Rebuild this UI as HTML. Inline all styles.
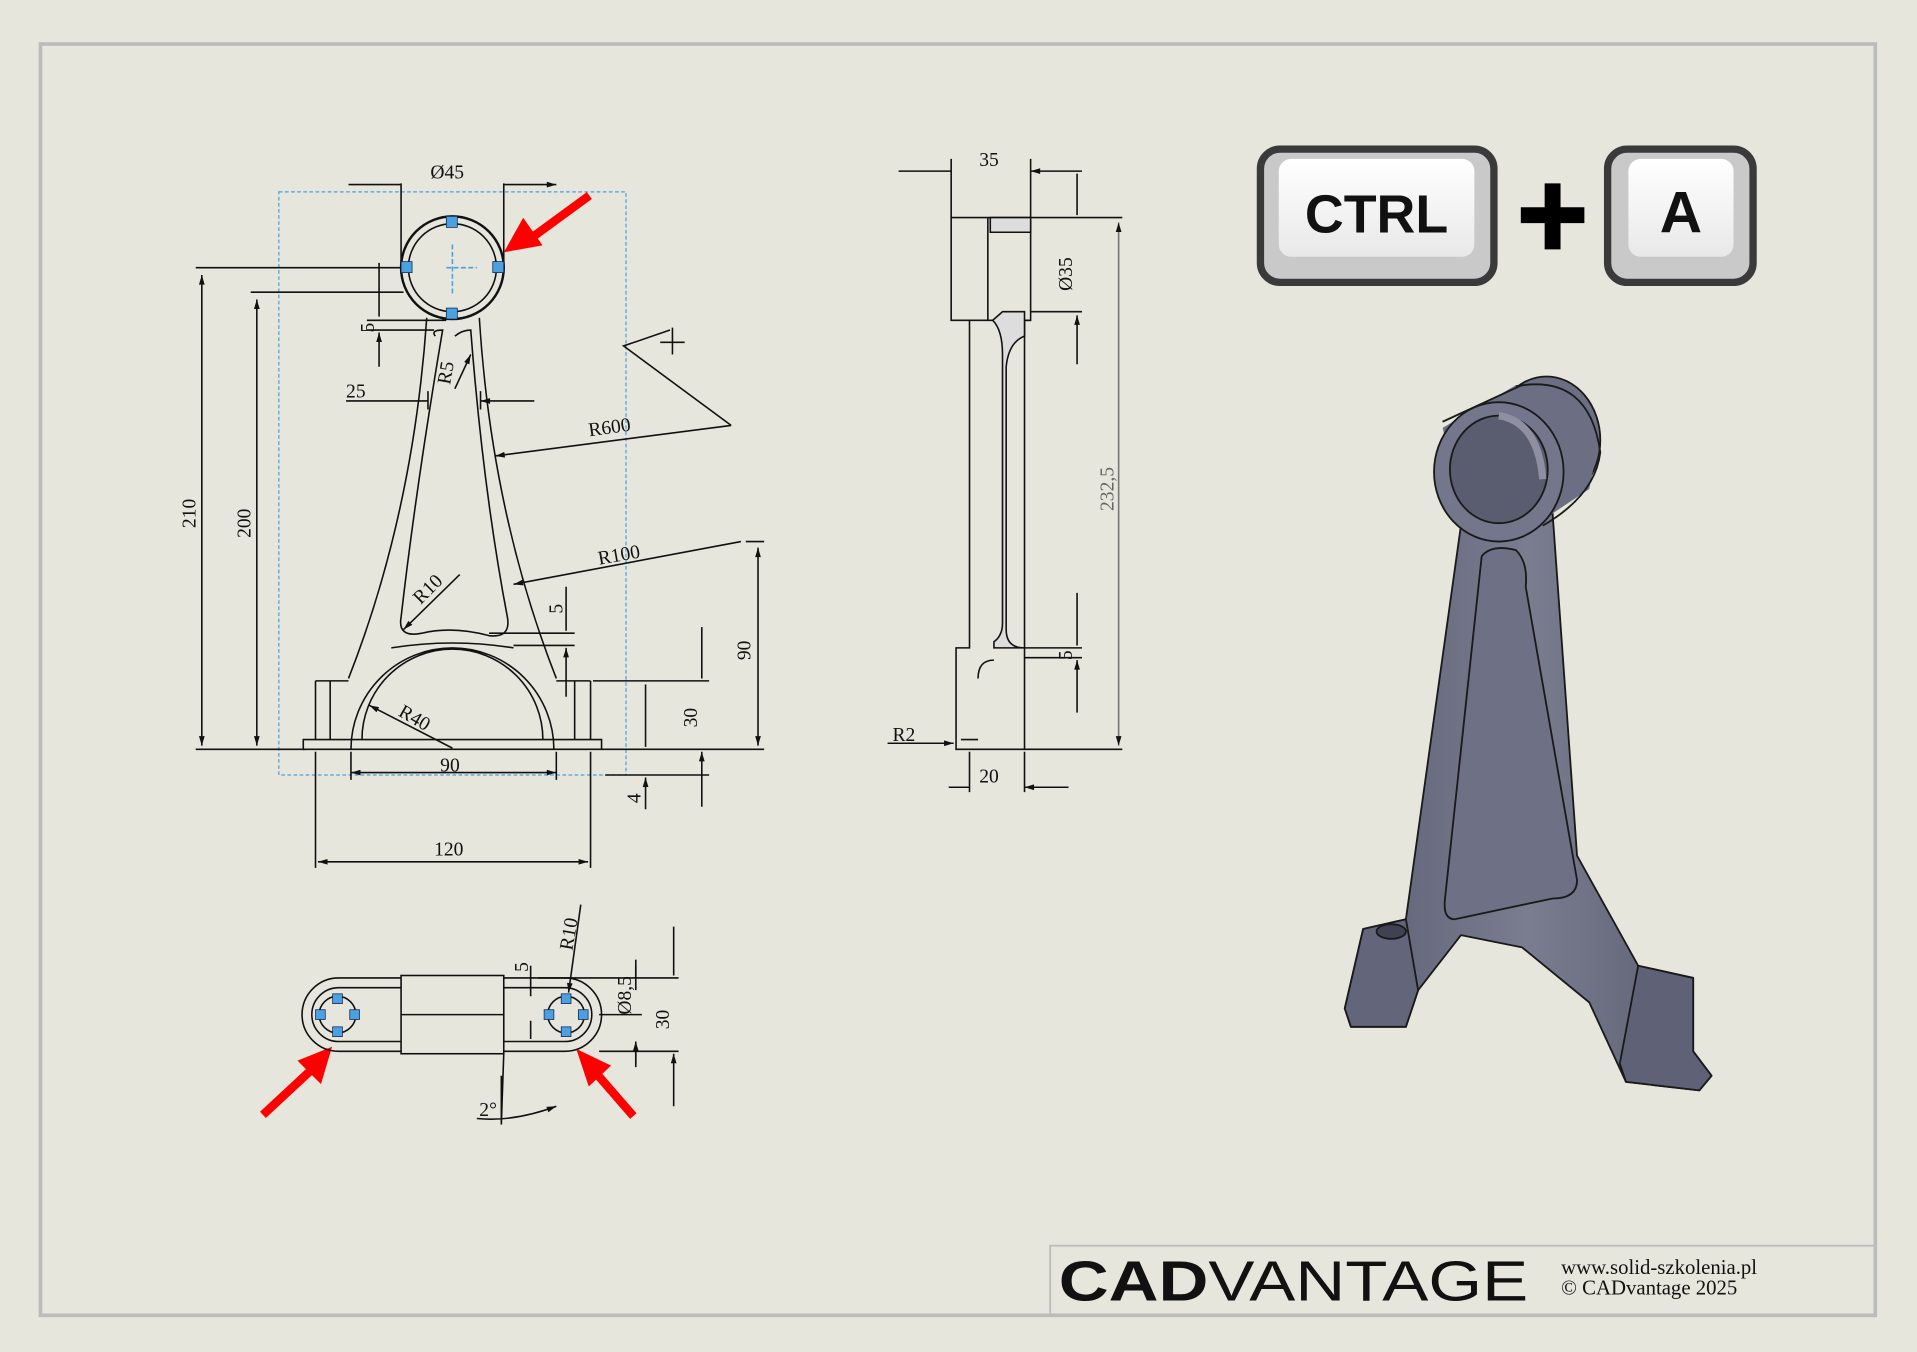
<!DOCTYPE html>
<html><head><meta charset="utf-8"><style>
html,body{margin:0;padding:0;background:#e7e6dc;}
svg{display:block}
text{font-family:"Liberation Serif",serif;fill:#111}
</style></head><body>
<svg width="1917" height="1352" viewBox="0 0 1568 1106" xmlns="http://www.w3.org/2000/svg">
<defs>
<marker id="a" viewBox="0 0 10 10" refX="10" refY="5" markerWidth="10" markerHeight="6" orient="auto-start-reverse"><path d="M0,2 L10,5 L0,8z" fill="#111"/></marker>
<linearGradient id="key" x1="0" y1="0" x2="0" y2="1"><stop offset="0" stop-color="#fff"/><stop offset="1" stop-color="#e8e8e8"/></linearGradient>
<linearGradient id="body" x1="0" y1="0" x2="1" y2="0"><stop offset="0" stop-color="#5d6074"/><stop offset="0.5" stop-color="#7a7d90"/><stop offset="1" stop-color="#5a5d70"/></linearGradient>
</defs>
<rect width="1568" height="1106" fill="#e7e6dc"/>
<rect x="33" y="36" width="1501" height="1040" fill="none" stroke="#bcbcbc" stroke-width="3"/>
<!-- title block -->
<path d="M859,1076 V1019 H1534" fill="none" stroke="#bcbcbc" stroke-width="1.5"/>
<text x="866" y="1064" textLength="384" lengthAdjust="spacingAndGlyphs" font-size="46" style="font-family:'Liberation Sans',sans-serif" fill="#111"><tspan font-weight="bold">CAD</tspan><tspan>VANTAGE</tspan></text>
<text x="1277" y="1042" font-size="17">www.solid-szkolenia.pl</text>
<text x="1277" y="1059" font-size="17">© CADvantage 2025</text>

<!-- keys -->
<rect x="1031" y="122" width="191" height="109" rx="16" fill="#c9c9c9" stroke="#3a3a3a" stroke-width="6"/>
<rect x="1046" y="130" width="160" height="80" rx="10" fill="url(#key)"/>
<text x="1126" y="190" text-anchor="middle" font-size="44" font-weight="bold" style="font-family:'Liberation Sans',sans-serif">CTRL</text>
<path d="M1244,176 H1296 M1270,150 V204" stroke="#000" stroke-width="13"/>
<rect x="1315" y="122" width="119" height="109" rx="16" fill="#c9c9c9" stroke="#3a3a3a" stroke-width="6"/>
<rect x="1332" y="130" width="86" height="80" rx="10" fill="url(#key)"/>
<text x="1375" y="190" text-anchor="middle" font-size="48" font-weight="bold" style="font-family:'Liberation Sans',sans-serif">A</text>

<!-- 3D part -->
<g stroke="#1a1a1a" stroke-width="1.5" stroke-linejoin="round">
<path d="M1100,825 L1115,760 L1150,752 L1195,430 L1270,420 L1290,700 L1340,790 L1385,800 L1385,860 L1400,880 L1390,892 L1330,885 L1300,820 L1245,775 L1195,765 L1160,810 L1150,840 L1105,840z" fill="url(#body)"/>
<ellipse cx="1265" cy="360" rx="44" ry="52" fill="#6c6f83"/>
<path d="M1180,350 L1240,315 L1290,318 L1308,360 L1300,400 L1240,440 L1200,430z" fill="#6c6f83" stroke="none"/>
<path d="M1240,316 Q1300,305 1309,370 Q1305,405 1262,430" fill="none"/>
<path d="M1180,345 L1245,315" fill="none"/>
<ellipse cx="1226" cy="386" rx="53" ry="57" fill="#74778b"/>
<ellipse cx="1226" cy="384" rx="40" ry="44" fill="#5a5d70"/>
<path d="M1226,340 Q1258,345 1262,392" fill="none" stroke="#8e90a2" stroke-width="6"/>
<path d="M1212,455 Q1220,445 1240,450 Q1250,460 1248,480 L1290,720 Q1290,735 1270,735 L1190,752 Q1180,752 1182,735z" fill="#6e7185"/>
<path d="M1100,825 L1115,760 L1150,752 L1160,810 L1150,840 L1105,840z" fill="#63667a"/>
<ellipse cx="1138" cy="762" rx="12" ry="6" fill="#3f4252"/>
<ellipse cx="1362" cy="805" rx="12" ry="6" fill="#3f4252"/>
<path d="M1330,885 L1325,870 L1340,790 L1385,800 L1385,860 L1400,880 L1390,892z" fill="#5f6276"/>
</g>

<!-- FRONT VIEW -->
<g fill="none" stroke="#111" stroke-width="1.3">
<rect x="228" y="157" width="284" height="477" stroke="#4aa0e0" stroke-dasharray="3,2" stroke-width="1"/>
<circle cx="370" cy="219" r="42" stroke-width="2"/>
<circle cx="370" cy="219" r="36"/>
<path d="M365,219 H390 M370,200 V240" stroke="#4aa0e0" stroke-dasharray="4,2"/>
<path d="M349,260 Q338,420 285,555 M392,260 Q402,420 455,555"/>
<path d="M356,275 Q352,270 362,270 Q340,400 328,505 Q325,522 345,518 Q370,512 400,520 Q418,522 415,505 Q395,400 385,270 Q378,270 372,275"/>
<path d="M258,557 H285 M455,557 H483 M258,557 V605 M483,557 V605 M270,557 V605 M470,557 V605"/>
<path d="M248,605 H492 V613 H248z"/>
<path d="M287,613 A83,83 0 0 1 453,613"/>
<path d="M296,605 A74,74 0 0 1 444,605"/>
<path d="M320,530 Q370,522 420,530"/>
<path d="M160,219 H330 M205,239 H330 M160,613 H250 M205,613 H250"/>
<path d="M165,225 V610" marker-start="url(#a)" marker-end="url(#a)"/>
<path d="M210,245 V610" marker-start="url(#a)" marker-end="url(#a)"/>
<path d="M328,150 V215 M412,150 V215"/>
<path d="M285,151 H328 M412,151 H455" marker-end="url(#a)"/>
<path d="M300,262 H365 M300,270 H355"/>
<path d="M310,215 V259 M310,300 V272" marker-end="url(#a)"/>
<path d="M283,328 H350 M437,328 H393" marker-end="url(#a)"/>
<path d="M350,320 V335 M393,320 V335"/>
<path d="M372,318 L385,290" marker-end="url(#a)"/>
<path d="M598,348 L510,283 L548,270 M550,268 V290 M540,280 H560"/>
<path d="M598,348 L405,373" marker-end="url(#a)"/>
<path d="M606,443 L420,478" marker-end="url(#a)"/>
<path d="M376,470 L330,515" marker-end="url(#a)"/>
<path d="M370,612 L302,577" marker-end="url(#a)"/>
<path d="M287,632 H455" marker-start="url(#a)" marker-end="url(#a)"/>
<path d="M287,615 V638 M455,615 V638"/>
<path d="M258,615 V710 M483,615 V710"/>
<path d="M260,705 H481" marker-start="url(#a)" marker-end="url(#a)"/>
<path d="M400,518 H470 M420,528 H470"/>
<path d="M463,480 V516 M463,570 V530" marker-end="url(#a)"/>
<path d="M485,557 H580 M492,613 H580 M610,443 H625 M495,613 H625 M495,634 H580"/>
<path d="M574,513 V555 M574,660 V615" marker-end="url(#a)"/>
<path d="M620,448 V610" marker-start="url(#a)" marker-end="url(#a)"/>
<path d="M528,560 V611 M528,662 V636" marker-end="url(#a)"/>
</g>
<g fill="#4aa0e0" stroke="#124" stroke-width="0.6">
<rect x="365" y="177" width="9" height="9"/><rect x="328" y="214" width="9" height="9"/><rect x="403" y="214" width="9" height="9"/><rect x="365" y="252" width="9" height="9"/>
</g>
<g font-size="16">
<text x="352" y="146">Ø45</text>
<text x="283" y="325">25</text>
<text x="482" y="357" transform="rotate(-8 482 357)">R600</text>
<text x="490" y="462" transform="rotate(-10 490 462)">R100</text>
<text x="344" y="495" transform="rotate(-45 344 495)">R10</text>
<text x="325" y="585" transform="rotate(30 325 585)">R40</text>
<text x="360" y="631">90</text>
<text x="355" y="700">120</text>
<text transform="translate(160,432) rotate(-90)">210</text>
<text transform="translate(205,440) rotate(-90)">200</text>
<text transform="translate(306,272) rotate(-90)">5</text>
<text transform="translate(368,315) rotate(-80)">R5</text>
<text transform="translate(460,502) rotate(-90)">5</text>
<text transform="translate(570,595) rotate(-90)">30</text>
<text transform="translate(614,540) rotate(-90)">90</text>
<text transform="translate(524,657) rotate(-90)">4</text>
</g>
<g fill="#f00" stroke="#f00" stroke-width="7">
<path d="M482,160 L430,198"/><path d="M414,205 L428,180 L442,200z" stroke-width="2"/>
<path d="M215,912 L258,872"/><path d="M270,858 L262,885 L245,868z" stroke-width="2"/>
<path d="M518,913 L485,875"/><path d="M473,860 L498,872 L482,887z" stroke-width="2"/>
</g>

<!-- SIDE VIEW -->
<g fill="none" stroke="#111" stroke-width="1.3">
<path d="M778,178 H843 V262 H838 V530 H838 V613 H782 V530 H793 V262 H778z"/>
<path d="M808,178 V262 M793,262 H843"/>
<path d="M810,178 H843 V190 H810z M820,255 H838 V275 Q825,280 823,300 V515 Q823,530 838,530 H813 V525 Q820,520 820,510 V290 Q820,270 812,262z" fill="#ddd" stroke="#111"/>
<path d="M800,555 Q800,540 813,540 M786,605 H800"/>
<path d="M778,130 V178 M843,130 V178 M735,140 H778 M885,140 H843" marker-end="url(#a)"/>
<path d="M843,178 H918 M843,255 H885 M838,530 H885 M838,538 H885 M838,613 H918"/>
<path d="M881,142 V176 M881,298 V258" marker-end="url(#a)"/>
<path d="M881,485 V528 M881,583 V540" marker-end="url(#a)"/>
<path d="M915,182 V610" stroke="#777" marker-start="url(#a)" marker-end="url(#a)"/>
<path d="M793,615 V648 M838,615 V648 M776,644 H793 M874,644 H838" marker-end="url(#a)"/>
<path d="M726,608 H780" marker-end="url(#a)"/>
</g>
<g font-size="16">
<text x="801" y="136">35</text>
<text x="801" y="640">20</text>
<text x="730" y="606">R2</text>
<text transform="translate(877,238) rotate(-90)">Ø35</text>
<text transform="translate(877,540) rotate(-90)">5</text>
<text transform="translate(911,418) rotate(-90)" style="fill:#666">232,5</text>
</g>

<!-- BOTTOM VIEW -->
<g fill="none" stroke="#111" stroke-width="1.3">
<path d="M277,800 H462 A30,30 0 0 1 462,860 H277 A30,30 0 0 1 277,800z"/>
<path d="M277,808 H462 A22,22 0 0 1 462,852 H277 A22,22 0 0 1 277,808z"/>
<rect x="328" y="798" width="84" height="64" fill="#e7e6dc"/>
<path d="M328,830 H412"/>
<circle cx="276" cy="830" r="15"/><circle cx="463" cy="830" r="15"/>
<path d="M412,862 L410,920 M410,880 V920"/>
<path d="M390,915 Q420,918 455,905" marker-end="url(#a)"/>
<path d="M475,740 L465,812" marker-end="url(#a)"/>
<path d="M434,790 V815 M434,850 V835 M440,800 H555 M490,830 H525 M490,860 H555" />
<path d="M520,800 V790 M520,860 V870"/>
<path d="M551,758 V798 M551,905 V862" marker-end="url(#a)"/>
<path d="M520,785 V810 M520,873 V852" marker-end="url(#a)"/>
</g>
<g fill="#4aa0e0" stroke="#124" stroke-width="0.6">
<rect x="272" y="813" width="8" height="8"/><rect x="258" y="826" width="8" height="8"/><rect x="286" y="826" width="8" height="8"/><rect x="272" y="840" width="8" height="8"/>
<rect x="459" y="813" width="8" height="8"/><rect x="445" y="826" width="8" height="8"/><rect x="473" y="826" width="8" height="8"/><rect x="459" y="840" width="8" height="8"/>
</g>
<g font-size="16">
<text transform="translate(468,778) rotate(-80)">R10</text>
<text transform="translate(432,795) rotate(-90)">5</text>
<text transform="translate(516,830) rotate(-90)">Ø8,5</text>
<text transform="translate(547,842) rotate(-90)">30</text>
<text x="392" y="913">2°</text>
</g>
</svg>
</body></html>
